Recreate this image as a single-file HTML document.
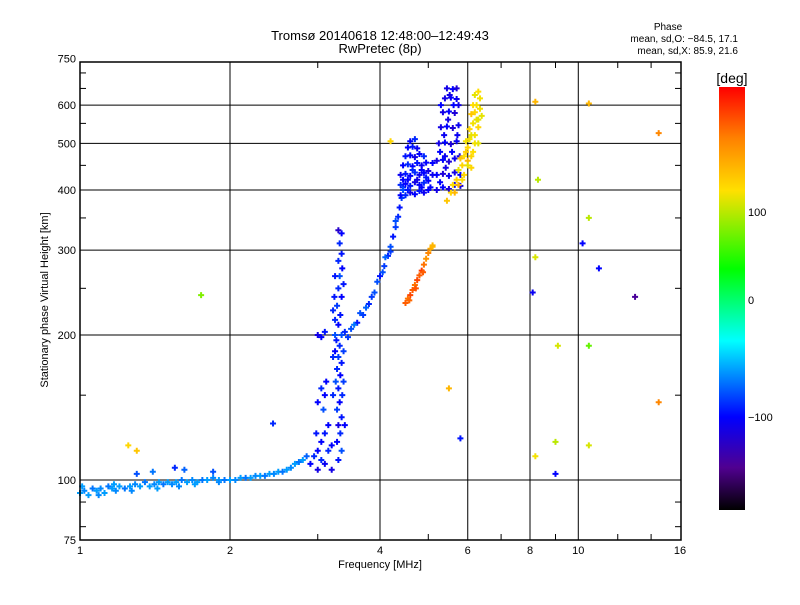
<!DOCTYPE html>
<html><head><meta charset="utf-8"><style>
body{margin:0;background:#fff;}
svg text{font-family:"Liberation Sans",sans-serif;}
</style></head><body>
<svg id="chart" width="800" height="600" xmlns="http://www.w3.org/2000/svg">
<defs><linearGradient id="cbg" x1="0" y1="0" x2="0" y2="1">
<stop offset="0" stop-color="#ff0000"/><stop offset="0.12" stop-color="#ff8000"/><stop offset="0.245" stop-color="#ffe000"/>
<stop offset="0.43" stop-color="#00ff00"/><stop offset="0.60" stop-color="#00ffff"/><stop offset="0.78" stop-color="#0000ff"/>
<stop offset="0.9" stop-color="#500090"/><stop offset="1" stop-color="#000000"/></linearGradient></defs>
<rect width="800" height="600" fill="#fff"/>
<text x="380" y="40" font-size="13" text-anchor="middle">Tromsø 20140618 12:48:00–12:49:43</text>
<text x="380" y="53" font-size="13" text-anchor="middle">RwPretec (8p)</text>
<text x="668" y="30" font-size="10" text-anchor="middle">Phase</text>
<text x="738" y="42" font-size="10" text-anchor="end">mean, sd,O: −84.5, 17.1</text>
<text x="738" y="54" font-size="10" text-anchor="end">mean, sd,X:  85.9, 21.6</text>
<g id="grid"></g><g id="marks"></g><g id="axes"></g>
<rect x="719" y="87" width="26" height="423" fill="url(#cbg)"/>
<text x="732" y="83" font-size="14" text-anchor="middle">[deg]</text>
<g id="cbticks"></g>
<text x="380" y="568" font-size="11" text-anchor="middle">Frequency [MHz]</text>
<text transform="translate(48,300) rotate(-90)" font-size="11" text-anchor="middle">Stationary phase Virtual Height [km]</text>
</svg>
<script>
const xTicks=[1,2,4,6,8,10,16];
const xGrid=[2,4,6,8,10];
const yTicks=[75,100,200,300,400,500,600,750];
const yGrid=[100,200,300,400,500,600];
const cbTicks=[100,0,-100];
// [freq MHz, height km, phase deg]
const lowTrace=[[1.0,94,-60],[1.02,95,-65],[1.04,93,-60],[1.06,96,-70],[1.08,95,-60],[1.1,96,-65],[1.12,94,-60],[1.14,97,-70],[1.16,96,-60],[1.18,95,-65],[1.2,97,-60],[1.23,96,-70],[1.26,97,-60],[1.29,98,-65],[1.32,97,-60],[1.35,99,-70],[1.38,97,-60],[1.41,98,-65],[1.44,99,-60],[1.47,98,-70],[1.5,99,-60],[1.53,98,-65],[1.56,99,-60],[1.6,100,-70],[1.64,99,-60],[1.68,100,-65],[1.72,99,-60],[1.76,100,-70],[1.8,100,-60],[1.85,101,-65],[1.9,100,-60],[1.95,100,-70],[2.0,100,-60],[2.05,100,-65],[2.1,101,-60],[2.15,101,-70],[2.2,101,-60],[2.25,102,-65],[2.3,102,-60],[2.35,102,-70],[2.4,103,-60],[2.45,103,-65],[2.5,104,-60],[2.55,104,-70],[2.6,105,-60],[2.65,106,-65],[2.7,108,-60],[2.75,109,-70],[2.8,110,-60],[2.85,112,-75],[1.3,103,-80],[1.4,104,-70],[1.55,106,-90],[1.62,105,-75],[1.85,104,-80],[2.44,131,-90],[1.01,97,-60],[1.09,93,-65],[1.17,98,-60],[1.27,95,-65],[1.43,96,-60],[1.58,97,-65],[1.7,98,-60],[1.9,99,-65]];
const cuspTrace=[[2.9,108,-100],[2.95,112,-90],[3.0,115,-100],[3.0,105,-110],[3.05,110,-90],[3.05,120,-100],[3.1,125,-95],[3.1,108,-105],[3.15,130,-100],[3.15,115,-90],[3.2,118,-100],[3.2,105,-110],[3.0,145,-100],[3.05,155,-90],[3.1,150,-100],[3.0,200,-110],[3.05,198,-100],[3.1,203,-95],[3.08,140,-80],[3.12,160,-100],[2.98,125,-95]];
const vertTrace=[[3.3,110,-95],[3.35,115,-80],[3.28,120,-100],[3.33,125,-90],[3.3,130,-110],[3.35,135,-95],[3.28,140,-85],[3.32,145,-100],[3.36,150,-90],[3.3,155,-95],[3.26,160,-80],[3.33,165,-100],[3.28,170,-90],[3.35,175,-95],[3.3,180,-85],[3.25,185,-100],[3.32,190,-90],[3.27,195,-95],[3.35,200,-80],[3.3,210,-100],[3.25,215,-90],[3.33,220,-95],[3.28,230,-85],[3.35,240,-100],[3.3,250,-90],[3.38,255,-95],[3.32,265,-80],[3.36,275,-100],[3.3,285,-90],[3.35,295,-95],[3.32,310,-90],[3.35,325,-100],[3.3,330,-120],[3.22,180,-90],[3.24,240,-95],[3.38,160,-85],[3.25,200,-80],[3.22,225,-90],[3.38,185,-85],[3.25,265,-95],[3.22,150,-90],[3.4,130,-100]];
const hookTrace=[[3.4,203,-90],[3.5,206,-80],[3.6,212,-95],[3.7,220,-85],[3.8,232,-90],[3.9,245,-80],[4.0,265,-95],[4.08,278,-85],[4.15,292,-90],[4.2,305,-80],[4.25,320,-95],[4.3,335,-85],[4.35,352,-90],[4.38,368,-95],[4.42,385,-85],[4.45,405,-90],[3.55,210,-70],[3.75,228,-75],[3.95,258,-80],[4.1,290,-75],[4.3,345,-80],[3.45,198,-85],[3.65,222,-80],[3.85,240,-85],[4.05,270,-80],[4.2,298,-85]];
const blobTrace=[[4.4,390,-100],[4.5,390,-90],[4.6,395,-110],[4.7,392,-100],[4.8,398,-95],[4.9,395,-105],[5.0,400,-100],[4.4,410,-90],[4.5,412,-100],[4.6,408,-95],[4.7,415,-110],[4.8,410,-100],[4.9,414,-90],[5.0,418,-100],[4.4,430,-105],[4.5,432,-95],[4.6,428,-100],[4.7,435,-90],[4.8,430,-105],[4.9,434,-100],[5.0,438,-110],[4.45,450,-100],[4.55,452,-90],[4.65,448,-100],[4.75,455,-95],[4.85,450,-105],[4.95,456,-100],[4.5,470,-95],[4.6,472,-100],[4.7,468,-110],[4.8,475,-100],[4.9,470,-90],[4.55,490,-100],[4.65,492,-95],[4.75,488,-105],[4.6,505,-100],[4.7,510,-90],[4.45,400,-80],[4.55,420,-100],[4.65,440,-90],[4.75,420,-110],[4.85,440,-100],[4.95,425,-95],[5.05,405,-100],[5.1,430,-105],[5.1,455,-100],[4.55,400,-95],[4.85,405,-100],[4.45,420,-100]];
const oTrace=[[5.2,400,-110],[5.35,405,-100],[5.5,402,-115],[5.65,410,-105],[5.8,408,-110],[5.2,430,-100],[5.35,432,-115],[5.5,428,-105],[5.65,435,-110],[5.8,430,-100],[5.2,460,-110],[5.35,462,-100],[5.5,458,-115],[5.65,465,-105],[5.25,500,-110],[5.4,502,-100],[5.55,498,-115],[5.7,505,-105],[5.3,540,-110],[5.45,542,-100],[5.6,538,-115],[5.75,545,-105],[5.35,580,-110],[5.5,582,-100],[5.65,578,-115],[5.4,620,-110],[5.55,622,-100],[5.7,618,-105],[5.45,650,-110],[5.6,648,-100],[5.7,650,-115],[5.3,600,-100],[5.75,600,-110],[5.4,470,-105],[5.28,415,-100],[5.42,445,-110],[5.58,480,-100],[5.72,520,-105],[5.48,560,-110],[5.62,600,-100],[5.38,520,-105],[5.52,630,-110],[5.28,480,-100],[5.78,470,-110]];
const xTrace=[[5.45,380,140],[5.55,395,130],[5.6,410,125],[5.7,420,130],[5.75,440,115],[5.85,450,130],[5.9,470,125],[5.8,465,140],[6.0,490,130],[5.95,505,120],[6.1,520,115],[6.05,535,130],[6.15,550,120],[6.2,580,130],[6.1,575,140],[6.25,600,120],[6.3,640,125],[6.2,630,115],[6.35,620,120],[6.0,460,150],[6.2,500,120],[6.3,540,130],[6.3,560,115],[5.75,410,150],[5.85,420,125],[6.1,470,130],[6.35,590,120],[5.65,395,150],[6.0,450,115],[6.15,480,125],[5.9,430,130],[6.05,510,120],[6.25,560,115],[6.15,600,125],[6.4,570,115],[5.95,480,135],[6.1,445,130],[6.3,500,115],[6.2,520,120]];
const redTrace=[[4.5,233,200],[4.55,238,190],[4.6,242,210],[4.65,248,200],[4.7,254,190],[4.75,260,210],[4.8,266,200],[4.85,272,215],[4.9,280,190],[4.95,288,170],[5.0,296,180],[5.05,302,160],[5.1,307,150],[4.58,236,195],[4.72,250,205],[4.88,270,200]];
const outliers=[[8.2,610,150],[8.3,420,100],[8.2,290,110],[8.1,245,-105],[8.2,112,120],[9.0,103,-100],[9.0,120,100],[9.1,190,110],[10.5,605,150],[10.5,350,100],[10.5,190,70],[10.5,118,110],[10.2,310,-100],[11.0,275,-100],[13.0,240,-140],[14.5,525,180],[14.5,145,180],[1.75,242,80],[1.25,118,130],[1.3,115,140],[5.8,122,-95],[5.5,155,150],[5.1,305,150],[4.2,505,130]];
const series=[lowTrace,cuspTrace,vertTrace,hookTrace,blobTrace,oTrace,xTrace,redTrace,outliers];
const X0=80,X1=681,Y0=62,Y1=540;
const xs=f=>80+150*Math.log2(f);
const ys=h=>480-145*Math.log2(h/100);
const NS="http://www.w3.org/2000/svg";
function mk(t,a,p){const e=document.createElementNS(NS,t);for(const k in a)e.setAttribute(k,a[k]);p.appendChild(e);return e;}
function phaseY(p){return p>=0?300-0.88*p:300+1.17*(-p);}
const stops=[[87,[255,0,0]],[138,[255,128,0]],[191,[255,224,0]],[269,[0,255,0]],[341,[0,255,255]],[417,[0,0,255]],[468,[80,0,144]],[510,[0,0,0]]];
function color(p){let y=Math.max(87,Math.min(510,phaseY(p)));for(let i=0;i<stops.length-1;i++){const a=stops[i],b=stops[i+1];if(y<=b[0]){const t=(y-a[0])/(b[0]-a[0]);const c=a[1].map((v,j)=>Math.round(v+(b[1][j]-v)*t));return`rgb(${c})`;}}return"#000";}
const grid=document.getElementById('grid'),axes=document.getElementById('axes'),marks=document.getElementById('marks'),cbt=document.getElementById('cbticks');
xGrid.forEach(f=>{const l=mk('line',{x1:xs(f),x2:xs(f),y1:Y0,y2:Y1,stroke:'#000','stroke-width':1},grid);

});
yGrid.forEach(h=>{const l=mk('line',{x1:X0,x2:X1,y1:ys(h),y2:ys(h),stroke:'#000','stroke-width':1},grid);

});
series.forEach(s=>s.forEach(([f,h,p])=>{const x=xs(f),y=ys(h),c=color(p);
const g=mk('path',{d:`M${x-3},${y}h6M${x},${y-3}v6`,stroke:c,'stroke-width':2,fill:'none'},marks);

}));
const frame=mk('rect',{x:X0,y:Y0,width:X1-X0,height:Y1-Y0,fill:'none',stroke:'#000','stroke-width':1.5},axes);


xTicks.forEach(f=>{const t=mk('text',{x:xs(f),y:554,'font-size':11,'text-anchor':'middle'},axes);t.textContent=f;

});
yTicks.forEach(h=>{const t=mk('text',{x:76,y:ys(h)+4,'font-size':11,'text-anchor':'end'},axes);t.textContent=h;

});
[3,5,7,9,12,14].forEach(f=>{mk('line',{x1:xs(f),x2:xs(f),y1:Y0,y2:Y0+6,stroke:'#000'},axes);mk('line',{x1:xs(f),x2:xs(f),y1:Y1,y2:Y1-6,stroke:'#000'},axes);});
[80,90,150,250,350,450,550,650,700].forEach(h=>{mk('line',{x1:X1,x2:X1-6,y1:ys(h),y2:ys(h),stroke:'#000'},axes);mk('line',{x1:X0,x2:X0+6,y1:ys(h),y2:ys(h),stroke:'#000'},axes);});
cbTicks.forEach(p=>{const t=mk('text',{x:748,y:phaseY(p)+4,'font-size':11},cbt);t.textContent=p<0?'−'+(-p):p;

});
</script>
</body></html>
